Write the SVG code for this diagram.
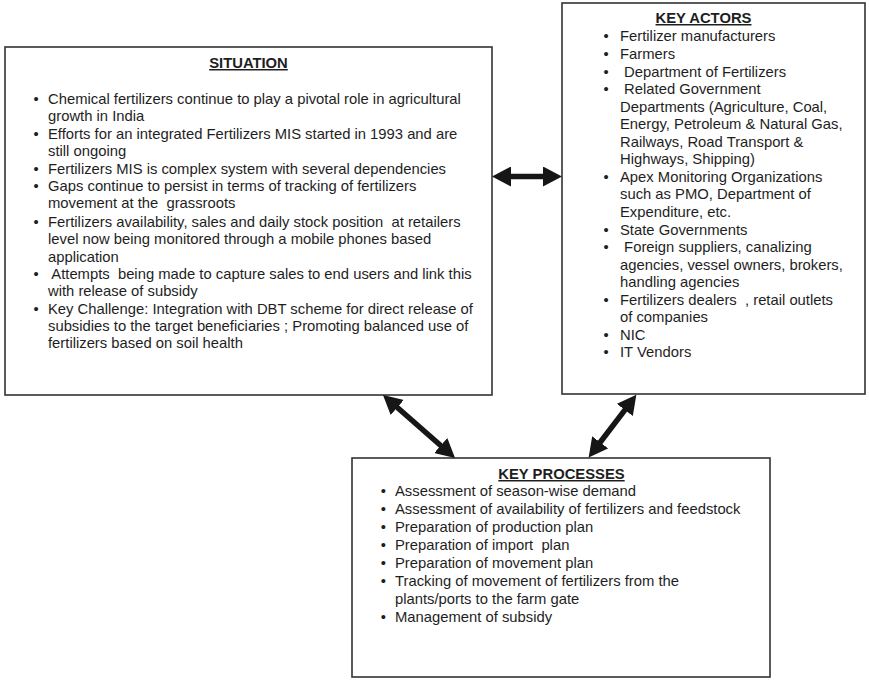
<svg xmlns="http://www.w3.org/2000/svg" width="869" height="680" viewBox="0 0 869 680">
  <style>
    .box { fill: #ffffff; stroke: #333333; stroke-width: 1.6; }
    text { white-space: pre; }
    .txt { font-family: "Liberation Sans", Arial, sans-serif; font-size: 14.8px; fill: #1e1e1e; }
    .head { font-family: "Liberation Sans", Arial, sans-serif; font-size: 14.8px; font-weight: bold; fill: #1e1e1e; text-anchor: middle; text-decoration: underline; }
    .conn { stroke: #161616; stroke-width: 5.5; fill: none; marker-start: url(#head); marker-end: url(#head); }
  </style>
  <defs>
    <marker id="head" viewBox="0 0 19 20" markerUnits="userSpaceOnUse" markerWidth="19" markerHeight="20" refX="9" refY="10" orient="auto-start-reverse">
      <path d="M0,0 L19,10 L0,20 z" fill="#161616"/>
    </marker>
  </defs>
  <rect width="869" height="680" fill="#ffffff"/>

  <g id="situation">
    <rect class="box" x="5" y="47" width="487" height="348"/>
    <text class="head" x="248.5" y="68">SITUATION</text>
    <g class="txt">
      <text x="33.4" y="103.5">•</text><text x="48" y="103.5">Chemical fertilizers continue to play a pivotal role in agricultural</text>
      <text x="48" y="120.7">growth in India</text>
      <text x="33.4" y="139">•</text><text x="48" y="139">Efforts for an integrated Fertilizers MIS started in 1993 and are</text>
      <text x="48" y="156">still ongoing</text>
      <text x="33.4" y="173.5">•</text><text x="48" y="173.5">Fertilizers MIS is complex system with several dependencies</text>
      <text x="33.4" y="191">•</text><text x="48" y="191">Gaps continue to persist in terms of tracking of fertilizers</text>
      <text x="48" y="208">movement at the  grassroots</text>
      <text x="33.4" y="226.5">•</text><text x="48" y="226.5">Fertilizers availability, sales and daily stock position  at retailers</text>
      <text x="48" y="244">level now being monitored through a mobile phones based</text>
      <text x="48" y="261.5">application</text>
      <text x="33.4" y="279">•</text><text x="48" y="279"> Attempts  being made to capture sales to end users and link this</text>
      <text x="48" y="296">with release of subsidy</text>
      <text x="33.4" y="313.5">•</text><text x="48" y="313.5">Key Challenge: Integration with DBT scheme for direct release of</text>
      <text x="48" y="331">subsidies to the target beneficiaries ; Promoting balanced use of</text>
      <text x="48" y="348">fertilizers based on soil health</text>
    </g>
  </g>

  <g id="key-actors">
    <rect class="box" x="562" y="3" width="303" height="391"/>
    <text class="head" x="703.5" y="23">KEY ACTORS</text>
    <g class="txt">
      <text x="603.5" y="41.3">•</text><text x="620" y="41.3">Fertilizer manufacturers</text>
      <text x="603.5" y="58.8">•</text><text x="620" y="58.8">Farmers</text>
      <text x="603.5" y="76.5">•</text><text x="620" y="76.5"> Department of Fertilizers</text>
      <text x="603.5" y="94">•</text><text x="620" y="94"> Related Government</text>
      <text x="620" y="111.5">Departments (Agriculture, Coal,</text>
      <text x="620" y="129">Energy, Petroleum &amp; Natural Gas,</text>
      <text x="620" y="146.5">Railways, Road Transport &amp;</text>
      <text x="620" y="164">Highways, Shipping)</text>
      <text x="603.5" y="181.5">•</text><text x="620" y="181.5">Apex Monitoring Organizations</text>
      <text x="620" y="199">such as PMO, Department of</text>
      <text x="620" y="216.8">Expenditure, etc.</text>
      <text x="603.5" y="234.8">•</text><text x="620" y="234.8">State Governments</text>
      <text x="603.5" y="252.3">•</text><text x="620" y="252.3"> Foreign suppliers, canalizing</text>
      <text x="620" y="270">agencies, vessel owners, brokers,</text>
      <text x="620" y="287.3">handling agencies</text>
      <text x="603.5" y="305">•</text><text x="620" y="305">Fertilizers dealers  , retail outlets</text>
      <text x="620" y="322.3">of companies</text>
      <text x="603.5" y="340">•</text><text x="620" y="340">NIC</text>
      <text x="603.5" y="357.3">•</text><text x="620" y="357.3">IT Vendors</text>
    </g>
  </g>

  <g id="key-processes">
    <rect class="box" x="352" y="458" width="418" height="219"/>
    <text class="head" x="561.5" y="479">KEY PROCESSES</text>
    <g class="txt">
      <text x="380.7" y="496.2">•</text><text x="395" y="496.2">Assessment of season-wise demand</text>
      <text x="380.7" y="514">•</text><text x="395" y="514">Assessment of availability of fertilizers and feedstock</text>
      <text x="380.7" y="532">•</text><text x="395" y="532">Preparation of production plan</text>
      <text x="380.7" y="550">•</text><text x="395" y="550">Preparation of import  plan</text>
      <text x="380.7" y="568">•</text><text x="395" y="568">Preparation of movement plan</text>
      <text x="380.7" y="586">•</text><text x="395" y="586">Tracking of movement of fertilizers from the</text>
      <text x="395" y="603.5">plants/ports to the farm gate</text>
      <text x="380.7" y="621.5">•</text><text x="395" y="621.5">Management of subsidy</text>
    </g>
  </g>

  <g id="connectors">
    <!-- shaft ends sit 10px inside each arrow tip -->
    <line class="conn" x1="502" y1="176.5" x2="552" y2="176.5"/>
    <line class="conn" x1="390.5" y1="401.5" x2="447.5" y2="451.5"/>
    <line class="conn" x1="630.3" y1="402.8" x2="594.7" y2="449.5"/>
  </g>
</svg>
